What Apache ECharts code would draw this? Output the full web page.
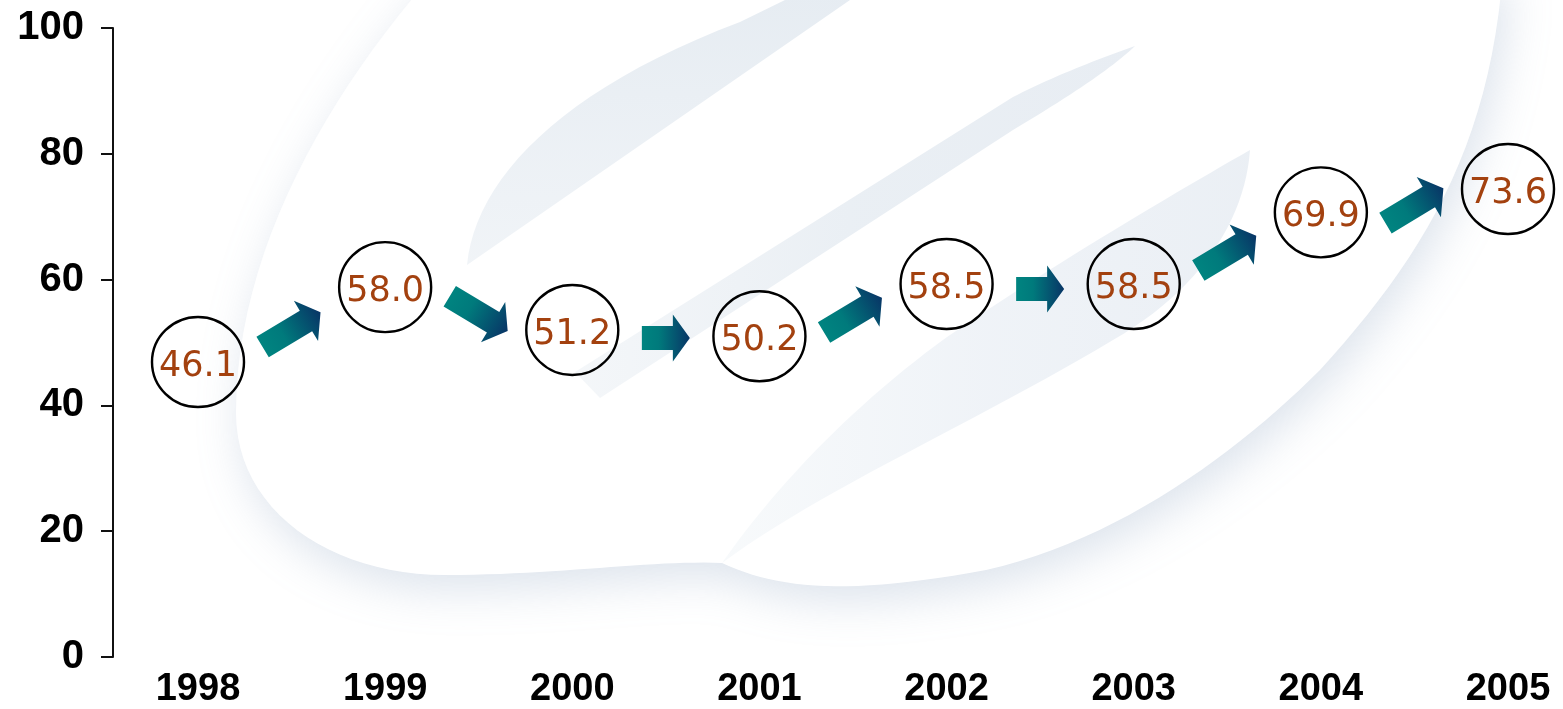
<!DOCTYPE html>
<html>
<head>
<meta charset="utf-8">
<script src="https://cdn.jsdelivr.net/npm/echarts@6/dist/echarts.min.js"></script>
<style>
  html, body { margin: 0; padding: 0; background: #ffffff; }
  #chart { width: 1563px; height: 709px; }
</style>
</head>
<body>
<div id="chart"></div>
<script>
// ---- data ----
const years = ['1998', '1999', '2000', '2001', '2002', '2003', '2004', '2005'];
const values = [46.1, 58.0, 51.2, 50.2, 58.5, 58.5, 69.9, 73.6];
const yMin = 0;
const yMax = 100;
const yStep = 20;

// arrow segments between consecutive years: [index, from, to]
const steps = values.slice(0, -1).map((v, i) => [i, v, values[i + 1]]);

const chart = echarts.init(document.getElementById('chart'), null, { renderer: 'canvas' });

function linGrad(x2, y2, stops) {
  return { type: 'linear', x: 0, y: 0, x2: x2, y2: y2, global: false, colorStops: stops };
}
// turn a simple M/L/C/Z path string into polygon points (decorative watermark only)
function pathToPoints(d) {
  const tok = d.match(/[MLCZ]|-?\d+(\.\d+)?/g);
  const pts = [];
  let i = 0, cur = [0, 0], cmd = null;
  while (i < tok.length) {
    const t = tok[i];
    if (/[MLCZ]/.test(t)) { cmd = t; i++; if (cmd === 'Z') continue; }
    if (cmd === 'M' || cmd === 'L') {
      cur = [+tok[i], +tok[i + 1]]; pts.push(cur.slice()); i += 2;
    } else if (cmd === 'C') {
      const c1 = [+tok[i], +tok[i + 1]], c2 = [+tok[i + 2], +tok[i + 3]], e = [+tok[i + 4], +tok[i + 5]];
      for (let k = 1; k <= 24; k++) {
        const s = k / 24, u = 1 - s;
        pts.push([
          u * u * u * cur[0] + 3 * u * u * s * c1[0] + 3 * u * s * s * c2[0] + s * s * s * e[0],
          u * u * u * cur[1] + 3 * u * u * s * c1[1] + 3 * u * s * s * c2[1] + s * s * s * e[1]
        ]);
      }
      cur = e; i += 6;
    } else { i++; }
  }
  return pts;
}

const option = {
  backgroundColor: '#ffffff',
  animation: false,
  graphic: {
    elements: [
      {
        type: 'polygon', z: -10, silent: true,
        shape: { points: pathToPoints('M437,-30 C330,90 236,250 236,413 C236,510 330,575 445,575 C560,575 650,560 722,563 C780,590 850,595 986,570 C1120,540 1240,450 1320,370 C1420,260 1490,150 1503,-30 Z') },
        style: { fill: '#ffffff', shadowColor: 'rgba(130,155,185,0.28)', shadowBlur: 45, shadowOffsetX: 6, shadowOffsetY: 14 }
      },
      {
        type: 'polygon', z: -9, silent: true,
        shape: { points: pathToPoints('M467,265 C475,180 560,90 740,22 L785,0 L850,0 Z') },
        style: { fill: linGrad(0, 1, [{ offset: 0, color: '#E2E9F0' }, { offset: 1, color: '#EEF2F6' }]), opacity: 0.85 }
      },
      {
        type: 'polygon', z: -9, silent: true,
        shape: { points: pathToPoints('M1135,46 C1090,62 1050,78 1013,97 L575,372 L600,398 L1013,130 C1080,90 1115,65 1135,46 Z') },
        style: { fill: linGrad(1, 0, [{ offset: 0, color: '#F2F5F8' }, { offset: 0.5, color: '#E6ECF2' }, { offset: 1, color: '#E4EAF1' }]), opacity: 0.85 }
      },
      {
        type: 'polygon', z: -9, silent: true,
        shape: { points: pathToPoints('M1250,150 C1180,190 1060,260 947,337 C860,400 780,480 722,563 C820,490 980,420 1113,340 C1200,290 1245,220 1250,150 Z') },
        style: { fill: linGrad(1, 0, [{ offset: 0, color: '#F5F8FA' }, { offset: 0.5, color: '#EAEFF5' }, { offset: 1, color: '#E4EAF1' }]), opacity: 0.75 }
      }
    ]
  },
  grid: { left: 198, right: 55, top: 28, bottom: 49, containLabel: false },
  xAxis: {
    type: 'category',
    data: years,
    boundaryGap: false,
    axisLine: { show: false },
    axisTick: { show: false },
    splitLine: { show: false },
    axisLabel: {
      margin: 14,
      color: '#000000',
      fontFamily: 'Liberation Sans, Arial, sans-serif',
      fontWeight: 'bold',
      fontSize: 38
    }
  },
  yAxis: {
    type: 'value',
    min: yMin,
    max: yMax,
    interval: yStep,
    offset: 85,
    axisLine: { show: true, lineStyle: { color: '#111111', width: 2 } },
    axisTick: { show: true, inside: false, length: 12, lineStyle: { color: '#111111', width: 2 } },
    splitLine: { show: false },
    axisLabel: {
      margin: 29,
      color: '#000000',
      fontFamily: 'Liberation Sans, Arial, sans-serif',
      fontWeight: 'bold',
      fontSize: 40
    }
  },
  series: [
    {
      type: 'custom',
      name: 'trend',
      data: steps,
      encode: { x: 0, y: [1, 2] },
      z: 3,
      renderItem: function (params, api) {
        const i = api.value(0);
        const p1 = api.coord([i, api.value(1)]);
        const p2 = api.coord([i + 1, api.value(2)]);
        const d = api.value(2) - api.value(1);
        const cx = (p1[0] + p2[0]) / 2;
        const cy = (p1[1] + p2[1]) / 2;
        let ang = 0;
        if (Math.abs(d) >= 1.5) ang = (d > 0 ? 1 : -1) * 31 * Math.PI / 180;
        const L = 48 + 38 * Math.abs(Math.sin(ang));
        const sh = 12, hh = 23.5, H = 17;
        const pts = [
          [-L / 2, -sh], [L / 2 - H, -sh], [L / 2 - H, -hh], [L / 2, 0],
          [L / 2 - H, hh], [L / 2 - H, sh], [-L / 2, sh]
        ];
        return {
          type: 'polygon',
          x: cx,
          y: cy,
          rotation: ang,
          shape: { points: pts },
          style: {
            fill: linGrad(1, 0, [
              { offset: 0, color: '#008480' },
              { offset: 0.35, color: '#007A7C' },
              { offset: 1, color: '#083566' }
            ])
          }
        };
      }
    },
    {
      type: 'scatter',
      name: 'value',
      data: values,
      z: 4,
      symbol: 'circle',
      symbolSize: [92, 90],
      symbolOffset: [0, -5],
      itemStyle: { color: 'rgba(255,255,255,0)', borderColor: '#000000', borderWidth: 2.4, opacity: 1 },
      label: {
        show: true,
        position: 'inside',
        offset: [0, 5],
        formatter: function (p) { return Number(p.value).toFixed(1); },
        color: '#A3410F',
        fontFamily: 'DejaVu Sans, sans-serif',
        fontSize: 35
      },
      emphasis: { disabled: true }
    }
  ]
};

chart.setOption(option);
</script>
</body>
</html>
